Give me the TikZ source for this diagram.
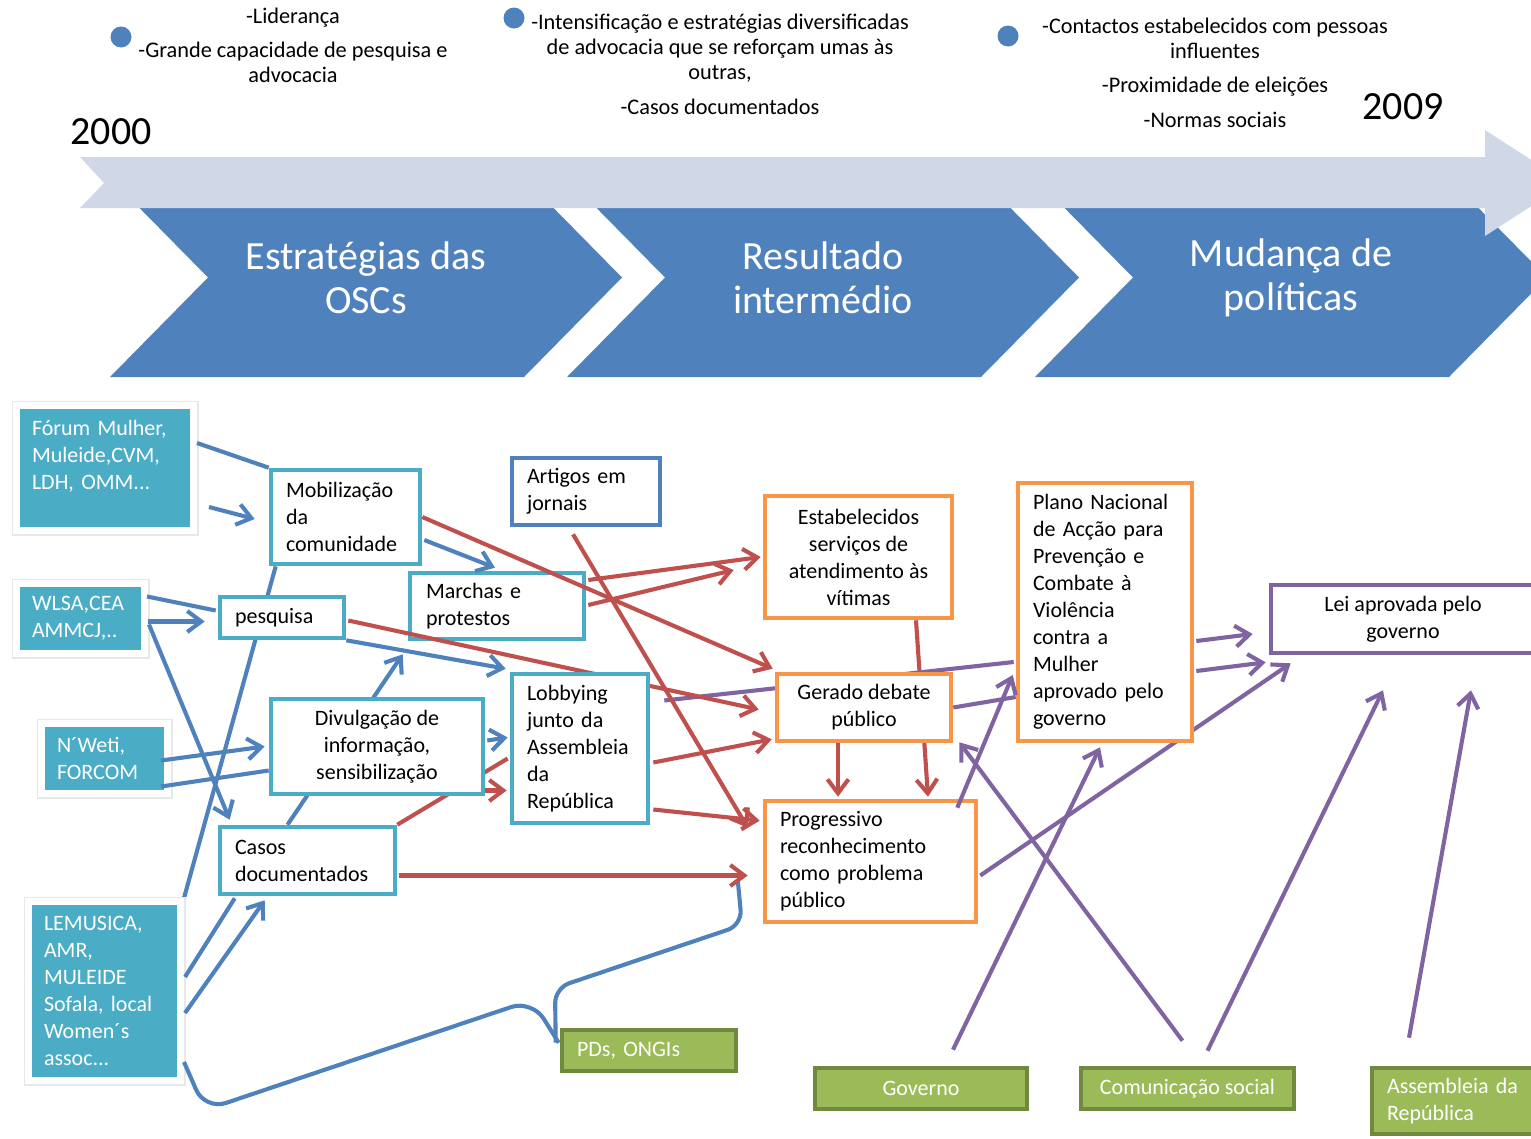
\documentclass[tikz,border=0pt]{standalone}
\usepackage{fontspec}
\setmainfont{Carlito}
\usepackage{tikz}
\usetikzlibrary{arrows.meta,calc,positioning}

\definecolor{oscteal}{HTML}{4BACC6}
\definecolor{strat}{HTML}{4F81BD}
\definecolor{redline}{HTML}{C0504D}
\definecolor{orangeline}{HTML}{F79646}
\definecolor{purpleline}{HTML}{8064A2}
\definecolor{leafgreen}{HTML}{9BBB59}
\definecolor{leafedge}{HTML}{71893F}
\definecolor{timeline}{HTML}{D0D8E8}

\pgfdeclarelayer{back}
\pgfsetlayers{back,main}

\tikzset{
    txt/.style={font=\fontsize{22}{27}\selectfont},
    toptxt/.style={font=\fontsize{22.3}{25}\selectfont, align=center},
    dot/.style={circle, fill=strat, minimum size=21pt, inner sep=0pt},
    srcbox/.style={txt, fill=oscteal, draw=white, line width=7pt, text=white,
        inner sep=0pt, preaction={draw=black!9, line width=10pt}},
    actbox/.style={txt, draw=oscteal, fill=white, line width=4.6pt, inner sep=0pt},
    resbox/.style={actbox, draw=orangeline},
    lawbox/.style={actbox, draw=purpleline},
    actorbox/.style={txt, fill=leafgreen, draw=leafedge, line width=4.6pt,
        text=white, inner sep=0pt},
    link/.style={line width=4.1pt}
}

\begin{document}
\begin{tikzpicture}[x=1pt, y=-1pt, >={Straight Barb[length=14pt, width=21pt]}]
    \useasboundingbox (0,0) rectangle (1531,1138);
    \clip (0,0) rectangle (1531,1138);

    % stages
    \foreach \L/\txt in {110/{Estratégias das\\OSCs}, 567/{Resultado\\intermédio}, 1035/{Mudança de\\políticas}}{
        \fill[strat] (\L,178) -- ++(414,0) -- ++(98,99.5) -- ++(-98,99.5) -- ++(-414,0) -- ++(98,-99.5) -- cycle;
        \node[text=white, font=\fontsize{40}{44}\selectfont, align=center] (stage\L) at (\L+256,277.5) {\txt};
    }
    \fill[timeline] (80,157) -- (1485,157) -- (1485,130) -- (1567,183) -- (1485,236) -- (1485,208) -- (80,208) -- (104,183) -- cycle;

    % top notes
    \node[dot] (d1) at (121,37) {};
    \node[dot] (d2) at (514,18) {};
    \node[dot] (d3) at (1008,36) {};
    \node[toptxt] (t1) at (293,45.5) {-Liderança\\[9pt]-Grande capacidade de pesquisa e\\advocacia};
    \node[toptxt] (t2) at (720,64) {-Intensificação e estratégias diversificadas\\de advocacia que se reforçam umas às\\outras,\\[10pt]-Casos documentados};
    \node[toptxt] (t3) at (1215,73) {-Contactos estabelecidos com pessoas\\influentes\\[9pt]-Proximidade de eleições\\[10pt]-Normas sociais};
    \node[font=\fontsize{40}{48}\selectfont] (y0) at (111,132) {2000};
    \node[font=\fontsize{40}{48}\selectfont] (y9) at (1403,107) {2009};

    % organisations
    \node[srcbox, minimum width=177pt, minimum height=125pt, text width=146pt, align=left] (forum) at (105,468) {Fórum Mulher,\\Muleide,CVM,\\LDH, OMM...\\ \mbox{}};
    \node[srcbox, minimum width=128pt, minimum height=70pt, text width=97pt, align=left] (wlsa) at (80.5,618.5) {WLSA,CEA\\AMMCJ,..};
    \node[srcbox, minimum width=126pt, minimum height=70pt, text width=95pt, align=left] (nweti) at (104.5,758.5) {N´Weti,\\FORCOM};
    \node[srcbox, minimum width=152pt, minimum height=179pt, text width=121pt, align=left] (lem) at (104.5,991) {LEMUSICA,\\AMR,\\MULEIDE\\Sofala, local\\Women´s\\assoc...};

    % strategies
    \node[actbox, minimum width=149pt, minimum height=94pt, text width=119pt, align=left] (mob) at (345.5,517) {Mobilização\\da\\comunidade};
    \node[actbox, minimum width=124pt, minimum height=41pt, text width=94pt, align=left] (pesq) at (282,617.5) {pesquisa};
    \node[actbox, minimum width=174pt, minimum height=66pt, text width=142pt, align=left] (march) at (497,606) {Marchas e\\protestos};
    \node[actbox, draw=strat, minimum width=148pt, minimum height=67pt, text width=118pt, align=left] (art) at (586,491.5) {Artigos em\\jornais};
    \node[actbox, minimum width=212pt, minimum height=95pt, align=center] (div) at (377,746.5) {Divulgação de\\informação,\\sensibilização};
    \node[actbox, minimum width=175pt, minimum height=67pt, text width=145pt, align=left] (casos) at (307.5,860.5) {Casos\\documentados};

    % results
    \node[resbox, minimum width=187pt, minimum height=122pt, align=center] (estab) at (858.5,557) {Estabelecidos\\serviços de\\atendimento às\\vítimas};
    \node[resbox, minimum width=174pt, minimum height=67pt, align=center] (deb) at (864,707.5) {Gerado debate\\público};
    \node[resbox, minimum width=211pt, minimum height=121pt, text width=181pt, align=left] (prog) at (870.5,861.5) {Progressivo\\reconhecimento\\como problema\\público};
    \node[resbox, minimum width=174pt, minimum height=258pt, text width=144pt, align=left] (plano) at (1105,612) {Plano Nacional\\de Acção para\\Prevenção e\\Combate à\\Violência\\contra a\\Mulher\\aprovado pelo\\governo};
    \node[lawbox, minimum width=264pt, minimum height=68pt, align=center] (lei) at (1403,619) {Lei aprovada pelo\\governo};

    % actors
    \node[actorbox, minimum width=174pt, minimum height=41pt, text width=144pt, align=left] (pds) at (649,1050.5) {PDs, ONGIs};
    \node[actorbox, minimum width=212pt, minimum height=41pt, align=center] (gov) at (921,1088.5) {Governo};
    \node[actorbox, minimum width=213pt, minimum height=41pt, align=center] (com) at (1187.5,1088.5) {Comunicação social};
    \node[actorbox, minimum width=186pt, minimum height=66pt, text width=156pt, align=left] (asm) at (1465,1101) {Assembleia da\\República};

    % runs under the lobbying box
    \path[redline, link, ->] ($(pesq.east)+(2,3)$) edge ($(deb.west)+(-16,2)$);
    \node[actbox, minimum width=136pt, minimum height=149pt, text width=106pt, align=left] (lob) at (580,748.5) {Lobbying\\junto da\\Assembleia\\da\\República};

    % links hidden behind boxes
    \begin{pgfonlayer}{back}
        \path[strat, link] (lem.north east) edge ($(mob.south west)+(7,0)$);
        \path[strat, link, ->] ($(casos.north)+(-20,0)$) edge ($(march.south west)+(-5,13)$);
        \path[redline, link] (casos.north east) edge ($(lob.west)+(-2,10)$);
        \path[redline, link, ->] ($(div.east)+(-30,44)$) edge ($(lob.west)+(-3,42)$);
        \path[redline, link, ->] ($(estab.south)+(57.5,0)$) edge ($(prog.north)+(57.5,-2)$);
        \path[purpleline, link] ($(lob.east)+(14,-48)$) edge ($(plano.west)+(-2,50)$);
        \path[purpleline, link, ->] ($(prog.east)+(2,14)$) edge ($(lei.south west)+(22,8)$);
    \end{pgfonlayer}

    \begin{scope}[strat, link]
        \path ($(forum.east)+(0,-25)$) edge (mob.north west);
        \path[->] ($(forum.east)+(12,39)$) edge ($(mob.west)+(-14,2)$);
        \path[->] ($(mob.east)+(2,23)$) edge ($(march.north)+(-2,-3)$);
        \path ($(wlsa.east)+(-1,-22)$) edge ($(pesq.west)+(-2,-7)$);
        \path[->] ($(wlsa.east)+(0,3)$) edge ($(pesq.west)+(-13,4)$);
        \path[->] ($(wlsa.east)+(1,6)$) edge ($(casos.north west)+(12,-5)$);
        \path[->] ($(nweti.east)+(-10,2)$) edge ($(div.west)+(-4,0)$);
        \path ($(nweti.east)+(-10,28)$) edge ($(div.west)+(0,24)$);
        \path[->] (pesq.south east) edge ($(lob.north west)+(-4,-3)$);
        \path[->] ($(div.east)+(2,-6)$) edge ($(lob.west)+(-2,-11)$);
        \path ($(lem.east)+(1,-14)$) edge ($(casos.south west)+(17,2)$);
        \path[->] ($(lem.east)+(1,22)$) edge ($(casos.south west)+(47,4)$);
        \draw[rounded corners=22pt] ($(lem.east)+(0,71)$) -- (205,1110) -- (532,1000) -- ($(pds.north west)+(-1,15)$);
        \draw[rounded corners=15pt] ($(pds.north west)+(-4,15)$) -- (555,988) -- (742,925) -- ($(prog.west)+(-25,18)$);
    \end{scope}

    \begin{scope}[redline, link]
        \path[->] (mob.east) edge ($(deb.north west)+(-2,-3)$);
        \path[->] ($(march.east)+(2,-26)$) edge ($(estab.west)+(-2,0)$);
        \path[->] ($(march.east)+(2,-1)$) edge ($(estab.west)+(-29,13)$);
        \path[->] ($(lob.east)+(3,14)$) edge ($(deb.south west)+(-3,-4)$);
        \path[->] ($(lob.east)+(3,61)$) edge ($(prog.north west)+(-3,22)$);
        \path[->] ($(art.south)+(-13,7)$) edge ($(prog.north west)+(-15,29)$);
        \path[->] ($(casos.east)+(2,15)$) edge ($(prog.west)+(-15,14)$);
        \path[->] ($(deb.south)+(-26,0)$) edge ($(prog.north)+(-32.5,-2)$);
    \end{scope}

    \begin{scope}[purpleline, link]
        \path (deb.east) edge ($(plano.west)+(0,85)$);
        \path[->] ($(plano.east)+(2,29)$) edge ($(lei.west)+(-16,15)$);
        \path[->] ($(plano.east)+(2,59)$) edge ($(lei.south west)+(-3,7)$);
        \path[->] ($(prog.north east)+(-21,9)$) edge ($(plano.west)+(-3,63)$);
        \path[->] ($(gov.north)+(32,-16)$) edge ($(plano.south)+(-5,4)$);
        \path[->] ($(com.north)+(-5,-25)$) edge ($(deb.south east)+(6,-1)$);
        \path[->] ($(com.north)+(20,-15)$) edge ($(lei.south)+(-20,35)$);
        \path[->] ($(asm.north)+(-56,-28)$) edge ($(lei.south)+(68,35)$);
    \end{scope}
\end{tikzpicture}
\end{document}
